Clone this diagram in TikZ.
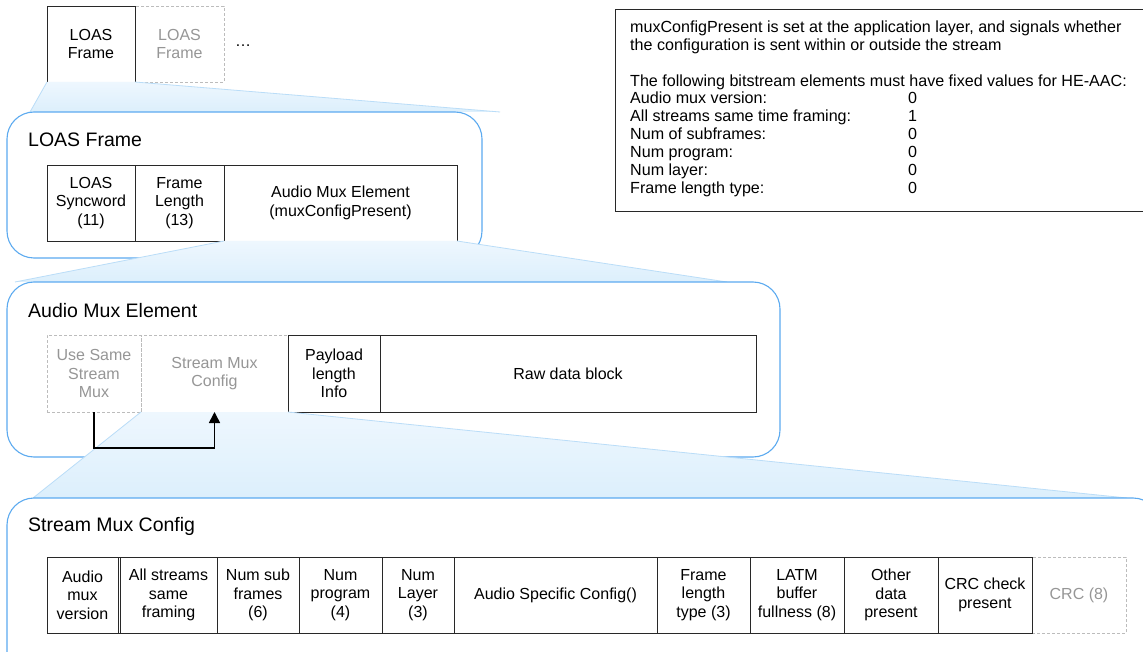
\documentclass[tikz,border=0pt]{standalone}
\usepackage{fontspec}
\setmainfont{Liberation Sans}
\usetikzlibrary{arrows.meta}

\definecolor{frameblue}{RGB}{92,170,240}
\definecolor{zoomtop}{RGB}{238,247,254}
\definecolor{zoombot}{RGB}{220,239,252}
\definecolor{zoomedge}{RGB}{186,221,248}
\definecolor{ghostline}{RGB}{188,188,188}
\definecolor{ghosttext}{RGB}{150,150,150}
\definecolor{cellline}{RGB}{40,40,40}

\newcommand{\celltext}{\fontsize{16}{18.5}\selectfont}
\newcommand{\titletext}{\fontsize{19.5}{22}\selectfont}
\newcommand{\notetext}{\fontsize{16.1}{17.9}\selectfont}

\tikzset{
  cell/.style={draw=cellline, line width=0.9pt, anchor=north west, inner sep=0pt,
    outer sep=0pt, align=center, minimum height=76pt, minimum width=#1, font=\celltext},
  ghostcell/.style={cell=#1, draw=ghostline, dash pattern=on 3pt off 2pt, text=ghosttext},
  container/.style={draw=frameblue, line width=1.1pt, fill=white, rounded corners=27pt,
    anchor=north west, inner sep=0pt, outer sep=0pt},
  boxtitle/.style={anchor=base west, inner sep=0pt, font=\titletext},
  zoomarea/.style={top color=zoomtop, bottom color=zoombot, draw=none},
  zoomline/.style={draw=zoomedge, line width=0.8pt},
  link/.style={draw=black, line width=1.6pt, -{Triangle[length=11pt,width=11pt]}}
}

\begin{document}
\begin{tikzpicture}[x=1pt, y=-1pt]
\clip (0,0) rectangle (1143,652);
\fill[white] (0,0) rectangle (1143,652);

% ---- sequence of frames ----
\node[ghostcell=89pt] (nextframe) at (135,6) {LOAS\\Frame};
\node[cell=88pt] (frame) at (47,6) {LOAS\\Frame};
\node[anchor=center, inner sep=0pt, font=\celltext] (more) at (243,46) {\ldots};

% ---- LOAS frame ----
\coordinate (z1l) at (30,112);
\coordinate (z1r) at (500,112);
\shade[zoomarea] (frame.south west) -- (frame.south east) -- (z1r) -- (z1l) -- cycle;
\path[zoomline] (frame.south west) -- (z1l) (frame.south east) -- (z1r);

\node[container, minimum width=475pt, minimum height=146pt] (loasbox) at (7,112) {};
\node[boxtitle] (loastitle) at (28,147) {LOAS Frame};
\node[cell=88pt] (sync) at (47,165) {LOAS\\Syncword\\(11)};
\node[cell=89pt] (flen) at (sync.north east) {Frame\\Length\\(13)};
\node[cell=233pt] (ame) at (flen.north east) {Audio Mux Element\\(muxConfigPresent)};

% ---- audio mux element ----
\coordinate (z2l) at (15,282);
\coordinate (z2r) at (727,282);
\shade[zoomarea] (ame.south west) -- (ame.south east) -- (z2r) -- (z2l) -- cycle;
\path[zoomline] (ame.south west) -- (z2l) (ame.south east) -- (z2r);

\node[container, minimum width=773pt, minimum height=175pt] (amebox) at (7,282) {};
\node[boxtitle] (ametitle) at (28,317) {Audio Mux Element};
\node[ghostcell=94pt, minimum height=77pt] (usm) at (47,335) {Use Same\\Stream\\Mux};
\node[ghostcell=147pt, minimum height=77pt] (smc) at (usm.north east) {Stream Mux\\Config};
\node[cell=92pt, minimum height=77pt] (pli) at (smc.north east) {Payload\\length\\Info};
\node[cell=376pt, minimum height=77pt] (raw) at (pli.north east) {Raw data block};

% ---- stream mux config ----
\coordinate (z3l) at (33,498);
\coordinate (z3r) at (1127,498);
\shade[zoomarea] (smc.south west) -- (smc.south east) -- (z3r) -- (z3l) -- cycle;
\path[zoomline] (smc.south west) -- (z3l) (smc.south east) -- (z3r);

\coordinate (usmdrop) at ([yshift=-36pt]usm.south);
\draw[link] (usm.south) -- (usmdrop) -| (smc.south);

\node[container, minimum width=1153pt, minimum height=200pt] (smcbox) at (7,498) {};
\node[boxtitle] (smctitle) at (28,531) {Stream Mux Config};
\node[ghostcell=94pt] (crc) at (1032,557) {CRC (8)};
\node[cell=71pt] (amv) at (47,557) {Audio\\mux\\version};
\node[cell=97pt] (asf) at (120,557) {All streams\\same\\framing};
\draw[draw=cellline, line width=0.9pt] (amv.north east) -- (asf.north west)
  (amv.south east) -- (asf.south west);
\node[cell=82pt] (nsf) at (asf.north east) {Num sub\\frames\\(6)};
\node[cell=83pt] (npg) at (nsf.north east) {Num\\program\\(4)};
\node[cell=72pt] (nly) at (npg.north east) {Num\\Layer\\(3)};
\node[cell=203pt] (asc) at (nly.north east) {Audio Specific Config()};
\node[cell=93pt] (flt) at (asc.north east) {Frame\\length\\type (3)};
\node[cell=94pt] (lbf) at (flt.north east) {LATM\\buffer\\fullness (8)};
\node[cell=94pt] (odp) at (lbf.north east) {Other\\data\\present};
\node[cell=94pt] (ccp) at (odp.north east) {CRC check\\present};

% ---- note on fixed values ----
\node[draw=cellline, line width=0.9pt, anchor=north west, inner sep=0pt, outer sep=0pt,
  minimum width=560pt, minimum height=202pt] (notebox) at (615,9) {};
\node[anchor=north west, inner sep=0pt, align=left, font=\notetext] (note) at (630,20.5) {%
muxConfigPresent is set at the application layer, and signals whether\\
the configuration is sent within or outside the stream\\
\mbox{}\\
The following bitstream elements must have fixed values for HE-AAC:\\
\makebox[278pt][l]{Audio mux version:}0\\
\makebox[278pt][l]{All streams same time framing:}1\\
\makebox[278pt][l]{Num of subframes:}0\\
\makebox[278pt][l]{Num program:}0\\
\makebox[278pt][l]{Num layer:}0\\
\makebox[278pt][l]{Frame length type:}0};
\end{tikzpicture}
\end{document}
